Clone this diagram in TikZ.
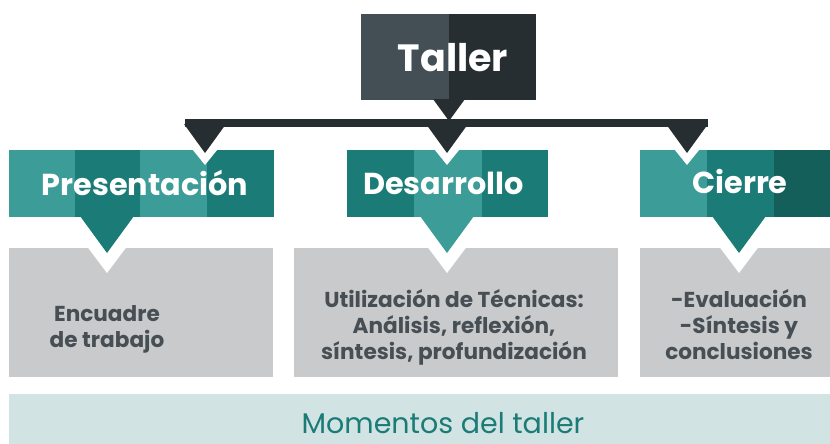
\documentclass[tikz,border=0pt]{standalone}
\usepackage{fontspec}
\setmainfont{Poppins}
\definecolor{tdark}{HTML}{272E31}
\definecolor{tgray}{HTML}{434E55}
\definecolor{tealL}{HTML}{3C9C98}
\definecolor{tealM}{HTML}{1B7B76}
\definecolor{tealD}{HTML}{155F5A}
\definecolor{boxg}{HTML}{C8CACC}
\definecolor{txtg}{HTML}{474F55}
\definecolor{barl}{HTML}{D1E4E3}
\tikzset{
  head/.style={anchor=base, text=white, inner sep=0pt, font=\bfseries\fontsize{30.3}{36}\selectfont},
  body/.style={anchor=base, text=txtg, inner sep=0pt, font=\bfseries\fontsize{21.6}{26}\selectfont},
  halo/.style={fill=white},
}
\begin{document}
\begin{tikzpicture}[x=1pt,y=-1pt]
\useasboundingbox (0,0) rectangle (830,444);
% ---- top box
\fill[tgray] (361,14) rectangle (449,100);
\fill[tdark] (449,14) rectangle (536,100);
\node[anchor=base, text=white, inner sep=0pt, font=\bfseries\fontsize{38}{44}\selectfont] (taller) at (453,72) {Taller};
% ---- teal header boxes
\fill[tealL] (9,150) rectangle (75,217);
\fill[tealM] (75,150) rectangle (140,217);
\fill[tealL] (140,150) rectangle (207,217);
\fill[tealM] (207,150) rectangle (274,217);
\fill[tealM] (347,150) rectangle (414,217);
\fill[tealL] (414,150) rectangle (482,217);
\fill[tealM] (482,150) rectangle (548,217);
\fill[tealL] (640,150) rectangle (707,217);
\fill[tealM] (707,150) rectangle (774,217);
\fill[tealD] (774,150) rectangle (830,217);
% ---- gray boxes
\fill[boxg] (9,248) rectangle (273,377);
\fill[boxg] (294,248) rectangle (618,377);
\fill[boxg] (640,248) rectangle (830,377);
% ---- bottom bar
\fill[barl] (9,394) rectangle (830,444);
% ---- connector: bar with pointers
\coordinate (pA) at (205,153);
\coordinate (pB) at (447,153);
\coordinate (pC) at (687,153);
\foreach \c in {205,447,687}{
  \fill[halo] (\c-21,139) -- (\c+21,139) -- (\c,165) -- cycle;
  \fill[tdark] (\c-21,124) -- (\c+21,124) -- (\c,153) -- cycle;
}
\fill[tdark] (433,99) -- (465,99) -- (449,121) -- cycle;
\fill[tdark] (185,119) rectangle (708,127);
% ---- teal pointers into gray boxes
\foreach \c/\col in {107/tealM,447/tealL,739/tealM}{
  \fill[halo] (\c-27,237) -- (\c+27,237) -- (\c,273) -- cycle;
  \fill[\col] (\c-27,216) -- (\c+27,216) -- (\c,253) -- cycle;
}
% ---- headings
\node[head] (pres) at (145,195) {Presentación};
\node[head] (desa) at (443.5,194) {Desarrollo};
\node[head] (cier) at (740,193) {Cierre};
% ---- body texts
\node[body] (e1) at (107,321) {Encuadre};
\node[body] (e2) at (107,347) {de trabajo};
\node[body] (d1) at (454,307) {Utilización de Técnicas:};
\node[body] (d2) at (454,333) {Análisis, reflexión,};
\node[body] (d3) at (454,359) {síntesis, profundización};
\node[body] (c1) at (739,307) {-Evaluación};
\node[body] (c2) at (739,333) {-Síntesis y};
\node[body] (c3) at (739,359) {conclusiones};
% ---- footer
\node[anchor=base, text=tealM, inner sep=0pt, font=\fontsize{28.5}{32}\selectfont] (mom) at (443,433) {Momentos del taller};
\end{tikzpicture}
\end{document}
